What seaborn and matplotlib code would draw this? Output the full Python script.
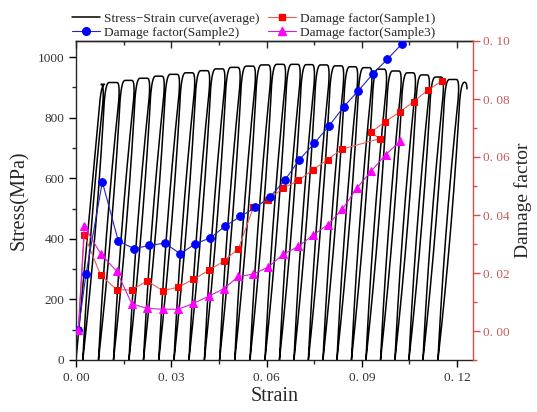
import numpy as np
import pandas as pd
import matplotlib
matplotlib.use("Agg")
import matplotlib.pyplot as plt
import seaborn as sns
from matplotlib.ticker import FixedLocator, MultipleLocator, FuncFormatter
from matplotlib.lines import Line2D

# ---------------- data ----------------
# residual strains (bottom of each unloading line), first one is origin
residual_strain = [0.0, 0.00214, 0.00708, 0.01181, 0.01668, 0.02125, 0.02607, 0.03085,
                   0.03557, 0.04042, 0.04521, 0.04999, 0.05478, 0.05950, 0.06406, 0.06863,
                   0.07316, 0.07776, 0.08216, 0.08673, 0.09129, 0.09589, 0.10042, 0.10483,
                   0.10924, 0.11396]
# strain at which each cycle starts unloading (end of plateau)
peak_strain = [0.0089, 0.0139, 0.0186, 0.0235, 0.0281, 0.0329, 0.0377, 0.0424, 0.0472,
               0.0520, 0.0568, 0.0616, 0.0663, 0.0709, 0.0754, 0.0800, 0.0846, 0.0890,
               0.0935, 0.0981, 0.1027, 0.1072, 0.1116, 0.1160, 0.1208]
# plateau stress of each cycle (MPa)
peak_stress = [910, 916, 923, 930, 937, 943, 948, 955, 961, 966, 970, 974, 976, 976, 975,
               974, 971, 968, 965, 960, 954, 948, 941, 934, 926, 917]
first_load_strain = 0.0080
final_strain, final_stress = 0.1231, 895

# damage factors
s1_strain = [0.00072, 0.00262, 0.00778, 0.01282, 0.01755, 0.02237, 0.02732, 0.03214, 0.03696,
             0.04181, 0.04654, 0.05114, 0.05587, 0.06060, 0.06523, 0.07005, 0.07459, 0.07919,
             0.08373, 0.09557, 0.09286, 0.09737, 0.10187, 0.10629, 0.11082, 0.11533]
s1_damage = [0.0003, 0.0332, 0.0192, 0.0143, 0.0141, 0.0173, 0.0139, 0.0151, 0.0178, 0.0209,
             0.0241, 0.0284, 0.0427, 0.0453, 0.0493, 0.0519, 0.0556, 0.0591, 0.0627, 0.0663,
             0.0685, 0.0722, 0.0755, 0.0791, 0.0831, 0.0863]

s2_strain = [0.00072, 0.00315, 0.00829, 0.01333, 0.01828, 0.02310, 0.02795, 0.03287, 0.03759,
             0.04232, 0.04686, 0.05177, 0.05650, 0.06113, 0.06586, 0.07036, 0.07509, 0.07972,
             0.08435, 0.08886, 0.09349, 0.09800, 0.10263]
s2_damage = [0.0003, 0.0196, 0.0514, 0.0310, 0.0284, 0.0295, 0.0303, 0.0266, 0.0301, 0.0321,
             0.0361, 0.0395, 0.0426, 0.0462, 0.0522, 0.0591, 0.0648, 0.0708, 0.0774, 0.0828,
             0.0887, 0.0937, 0.0990]

s3_strain = [0.00072, 0.00262, 0.00778, 0.01282, 0.01755, 0.02237, 0.02732, 0.03214, 0.03696,
             0.04181, 0.04654, 0.05114, 0.05587, 0.06055, 0.06532, 0.07005, 0.07459, 0.07931,
             0.08382, 0.08845, 0.09286, 0.09746, 0.10209]
s3_damage = [0.0003, 0.0361, 0.0266, 0.0206, 0.0094, 0.0078, 0.0075, 0.0075, 0.0095, 0.0120,
             0.0146, 0.0188, 0.0196, 0.0221, 0.0265, 0.0292, 0.0330, 0.0367, 0.0419, 0.0493,
             0.0550, 0.0608, 0.0654]

x_ticks = [0.00, 0.03, 0.06, 0.09, 0.12]
y_ticks = [0, 200, 400, 600, 800, 1000]
d_ticks = [0.00, 0.02, 0.04, 0.06, 0.08, 0.10]

labels = ["Stress\u2212Strain curve(average)", "Damage factor(Sample1)",
          "Damage factor(Sample2)", "Damage factor(Sample3)"]

# ---------------- build cyclic curve path ----------------
def bez(p0, c, p1, n=10):
    t = np.linspace(0, 1, n)[:, None]
    p0, c, p1 = map(np.asarray, (p0, c, p1))
    return (1 - t) ** 2 * p0 + 2 * (1 - t) * t * c + t ** 2 * p1

eps = 0.0011      # lens bulge
dtop = 0.0005
cw = 0.0010
frac = 0.07
pts = []
n_cyc = len(peak_stress)
for k in range(n_cyc):
    r = residual_strain[k]
    s = peak_stress[k]
    A = first_load_strain if k == 0 else peak_strain[k - 1] + dtop
    c0 = (r + (1 - frac) * (A - r), (1 - frac) * s)
    mid = ((r + c0[0]) / 2 + (eps if k > 0 else 0), c0[1] / 2)
    pts.append(bez((r, 0), mid, c0, 16))
    pts.append(bez(c0, (A, s), (A + cw, s), 8))
    if k < n_cyc - 1:
        p = peak_strain[k]
        rn = residual_strain[k + 1]
        e0 = (p - cw, s)
        e1 = (p + frac * (rn - p), (1 - frac) * s)
        pts.append(np.array([e0]))
        pts.append(bez(e0, (p, s), e1, 8))
        midu = ((e1[0] + rn) / 2 - eps, e1[1] / 2)
        pts.append(bez(e1, midu, (rn, 0), 16))
    else:
        pts.append(bez((A + cw, s), (final_strain, s), (final_strain, final_stress), 8))
path = np.vstack(pts)
curve = pd.DataFrame({"strain": path[:, 0], "stress": path[:, 1]})

# ---------------- plot ----------------
sns.set_style("ticks")
plt.rcParams["font.family"] = ["Liberation Serif", "DejaVu Serif"]
plt.rcParams["axes.linewidth"] = 1.0

fig = plt.figure(figsize=(5.37, 4.12), dpi=100)
ax = fig.add_axes([76 / 537, 52 / 412, 397 / 537, 319 / 412])

sns.lineplot(data=curve, x="strain", y="stress", sort=False, estimator=None,
             color="black", linewidth=1.1, ax=ax)
ax.set_xlim(0, 0.125)
ax.set_ylim(0, 1053)
ax.set_xlabel("Strain", fontsize=14.5, labelpad=2)
ax.set_ylabel("Stress(MPa)", fontsize=14.5, labelpad=6)
fmt = FuncFormatter(lambda v, _: f"{v:.2f}".replace(".", ". "))
ax.xaxis.set_major_locator(FixedLocator(x_ticks))
ax.xaxis.set_minor_locator(MultipleLocator(0.015))
ax.xaxis.set_major_formatter(fmt)
ax.yaxis.set_major_locator(FixedLocator(y_ticks))
ax.yaxis.set_minor_locator(MultipleLocator(100))
ax.tick_params(axis="both", which="major", direction="out", length=5, width=1,
               labelsize=9.5, colors="black", labelcolor="#333333")
ax.tick_params(axis="both", which="minor", direction="out", length=3, width=1)
ax.tick_params(axis="y", right=False)

sec = ax.secondary_xaxis("top")
sec.xaxis.set_major_locator(FixedLocator(x_ticks))
sec.xaxis.set_minor_locator(MultipleLocator(0.015))
sec.tick_params(which="major", direction="in", length=5, width=1, labeltop=False)
sec.tick_params(which="minor", direction="in", length=3, width=1)
sec.set_xticklabels([])

red_axis = "#e0494b"
ax2 = ax.twinx()
sns.lineplot(x=s1_strain, y=s1_damage, sort=False, estimator=None, color="#e8605a",
             linewidth=0.8, marker="s", markersize=5, markerfacecolor="#ff0000",
             markeredgecolor="#ff0000", ax=ax2)
sns.lineplot(x=s2_strain, y=s2_damage, sort=False, estimator=None, color="#2626b8",
             linewidth=0.8, marker="o", markersize=5.5, markerfacecolor="#0000ff",
             markeredgecolor="#0000ff", ax=ax2)
sns.lineplot(x=s3_strain, y=s3_damage, sort=False, estimator=None, color="#d020d0",
             linewidth=0.8, marker="^", markersize=6, markerfacecolor="#ff00ff",
             markeredgecolor="#ff00ff", ax=ax2)
ax2.set_ylim(-0.01, 0.10)
ax2.yaxis.set_major_locator(FixedLocator(d_ticks))
ax2.yaxis.set_minor_locator(MultipleLocator(0.01))
ax2.yaxis.set_major_formatter(fmt)
ax2.set_ylabel("Damage factor", fontsize=14, labelpad=3)
ax2.tick_params(axis="y", which="major", direction="out", length=5, width=1,
                colors=red_axis, labelcolor="#c85a5a", labelsize=9.5, pad=2.5)
ax2.tick_params(axis="y", which="minor", direction="out", length=3, width=1, colors=red_axis)
ax2.spines["right"].set_color(red_axis)
ax2.spines["right"].set_linewidth(1.0)
for sp in ["top", "left", "bottom"]:
    ax2.spines[sp].set_visible(False)
ax.spines["right"].set_visible(False)

handles = [
    Line2D([], [], color="black", linewidth=1.1),
    Line2D([], [], color="#2626b8", linewidth=0.8, marker="o", markersize=5.5,
           markerfacecolor="#0000ff", markeredgecolor="#0000ff"),
    Line2D([], [], color="#e8605a", linewidth=0.8, marker="s", markersize=5,
           markerfacecolor="#ff0000", markeredgecolor="#ff0000"),
    Line2D([], [], color="#d020d0", linewidth=0.8, marker="^", markersize=6,
           markerfacecolor="#ff00ff", markeredgecolor="#ff00ff"),
]
leg_labels = [labels[0], labels[2], labels[1], labels[3]]
fig.legend(handles, leg_labels, ncol=2, loc="lower left",
           bbox_to_anchor=(72 / 537, (412 - 39) / 412), frameon=False, fontsize=9.6,
           handlelength=2.1, handletextpad=0.3, columnspacing=0.6, labelspacing=0.12,
           borderaxespad=0, borderpad=0)

fig.savefig("out.png", dpi=100)
